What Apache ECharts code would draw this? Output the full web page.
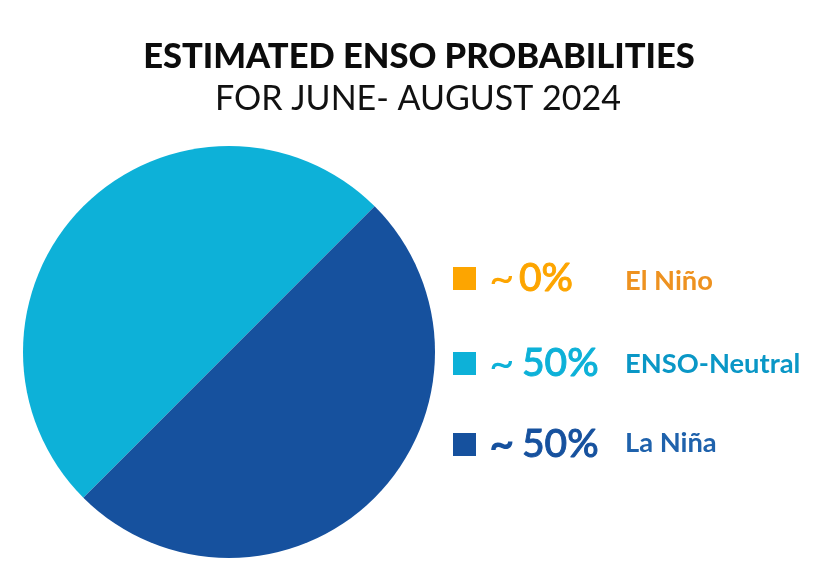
<!DOCTYPE html>
<html>
<head>
<meta charset="utf-8">
<style>html,body{margin:0;padding:0;background:#fff}#main{width:823px;height:576px}</style>
<script src="https://cdn.jsdelivr.net/npm/echarts@6/dist/echarts.min.js"></script>
</head>
<body>
<div id="main"></div>
<script>
var categories = ['El Niño', 'ENSO-Neutral', 'La Niña']
var values = [0, 50, 50]
var valueLabels = ['0%', '50%', '50%']
var colors = ['#FDA500', '#0DB1D8', '#16519E']
var nameColors = ['#EE9220', '#0A97C6', '#1F62AC']
var titleLines = ['ESTIMATED ENSO PROBABILITIES', 'FOR JUNE- AUGUST 2024']

var font = '"Lato","Open Sans",sans-serif'
var rectTop = [267, 352, 433]
var valueMid = [278, 363, 444]
var nameMid = [281, 364, 443]
var valueLeft = [519, 522, 522]
var tildeWeight = [400, 400, 700]

var graphic = []
categories.forEach(function(name, i) {
    graphic.push({ type: 'rect', x: 453, y: rectTop[i], shape: { width: 23, height: 23 }, style: { fill: colors[i] } })
    graphic.push({ type: 'text', x: 489, y: valueMid[i] + 1, style: { text: '~', fill: colors[i], font: tildeWeight[i] + ' 44px ' + font, verticalAlign: 'middle' } })
    graphic.push({ type: 'text', x: valueLeft[i], y: valueMid[i], style: { text: valueLabels[i], fill: colors[i], stroke: colors[i], lineWidth: 0.9, font: '500 39px ' + font, verticalAlign: 'middle' } })
    graphic.push({ type: 'text', x: 625, y: nameMid[i], style: { text: name, fill: nameColors[i], font: '700 27.3px ' + font, verticalAlign: 'middle' } })
})
graphic.push({ type: 'text', x: 419, y: 57, style: { text: titleLines[0], fill: '#0c0c0c', font: '900 34.5px ' + font, align: 'center', verticalAlign: 'middle' } })
graphic.push({ type: 'text', x: 418, y: 99, style: { text: titleLines[1], fill: '#111', font: '400 34px ' + font, align: 'center', verticalAlign: 'middle' } })

var chart = echarts.init(document.getElementById('main'))
chart.setOption({
    animation: false,
    graphic: graphic,
    series: [{
        type: 'pie',
        center: [229, 352],
        radius: [0, 206],
        startAngle: 225,
        label: { show: false },
        labelLine: { show: false },
        data: categories.map(function(name, i) {
            return { name: name, value: values[i], itemStyle: { color: colors[i] } }
        })
    }]
})
</script>
</body>
</html>
